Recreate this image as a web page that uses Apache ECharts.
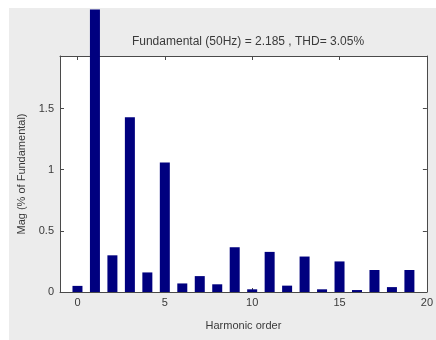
<!DOCTYPE html>
<html>
<head>
<meta charset="utf-8">
<script src="https://cdn.jsdelivr.net/npm/echarts@6/dist/echarts.min.js"></script>
<style>
html,body{margin:0;padding:0;background:#fff;}
#c{width:436px;height:340px;}
</style>
</head>
<body>
<div id="c"></div>
<script>
const harmonicOrders = [0,1,2,3,4,5,6,7,8,9,10,11,12,13,14,15,16,17,18,19];
const magnitudes = [0.05,2.31,0.30,1.43,0.16,1.06,0.07,0.13,0.063,0.366,0.022,0.328,0.052,0.29,0.022,0.25,0.016,0.18,0.04,0.18];
const xTickValues = [0,5,10,15,20];
const yTickValues = [0,0.5,1,1.5];
const titleText = 'Fundamental (50Hz) = 2.185 , THD= 3.05%';
const xName = 'Harmonic order';
const yName = 'Mag (% of Fundamental)';

const chart = echarts.init(document.getElementById('c'), null, {renderer:'canvas'});
const font = 'Liberation Sans';
const axisCol = '#4a4a4a';
const txtCol = '#3a3a3a';
const baseX = {
  type:'value', min:-1, max:20,
  axisLine:{show:true, onZero:false, lineStyle:{color:axisCol, width:1}},
  axisTick:{show:true, inside:true, length:4, customValues:xTickValues, lineStyle:{color:axisCol}},
  splitLine:{show:false}
};
const baseY = {
  type:'value', min:0, max:1.93,
  axisLine:{show:true, onZero:false, lineStyle:{color:axisCol, width:1}},
  axisTick:{show:true, inside:true, length:4, customValues:yTickValues, lineStyle:{color:axisCol}},
  splitLine:{show:false}
};
chart.setOption({
  backgroundColor:'#fff',
  animation:false,
  graphic:[{type:'rect', z:-10, shape:{x:9, y:8, width:427, height:332}, style:{fill:'#ececec'}}],
  title:{text:titleText, left:243, top:31, textAlign:'center',
    textStyle:{fontFamily:font, fontSize:12, fontWeight:'normal', color:txtCol}},
  grid:{left:60, right:9, top:56, bottom:48, show:true, backgroundColor:'#fff', borderWidth:0},
  xAxis:[
    Object.assign({}, baseX, {position:'bottom', name:xName, nameLocation:'middle', nameGap:28,
      nameTextStyle:{fontFamily:font, fontSize:11, color:txtCol},
      axisLabel:{show:true, customValues:xTickValues, margin:5, fontFamily:font, fontSize:11, color:txtCol}}),
    Object.assign({}, baseX, {position:'top', axisLabel:{show:false}})
  ],
  yAxis:[
    Object.assign({}, baseY, {position:'left', name:yName, nameLocation:'middle', nameGap:33,
      nameTextStyle:{fontFamily:font, fontSize:11, color:txtCol},
      axisLabel:{show:true, customValues:yTickValues, margin:6, fontFamily:font, fontSize:11, color:txtCol}}),
    Object.assign({}, baseY, {position:'right', axisLabel:{show:false}})
  ],
  series:[{
    type:'bar', clip:false, barWidth:10,
    xAxisIndex:0, yAxisIndex:0,
    itemStyle:{color:'#00007f'},
    data: harmonicOrders.map((h,i)=>[h, magnitudes[i]])
  }]
});
</script>
</body>
</html>
